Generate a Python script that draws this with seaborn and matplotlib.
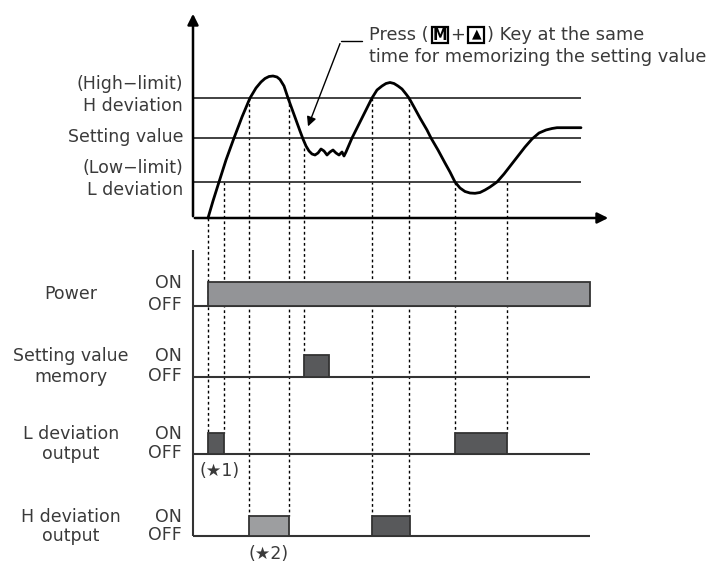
import matplotlib.pyplot as plt
import seaborn as sns
import pandas as pd
from matplotlib.patches import Rectangle

# Timing diagram drawn on one axes whose units follow the picture (time to the right, value downwards)
sns.set_style("white")
plt.rcParams['font.family'] = ['DejaVu Sans']

TEXT = '#3a3a3a'
LINE = '#333333'
FS = 12.5
FS_NOTE = 12.8

# process value curve (time, value)
curve_t = [208, 213, 219, 226, 234, 242, 250, 256, 261, 265, 269, 273, 277, 280, 284, 288,
           292, 296, 300, 303, 306, 309, 312, 315, 318, 321, 324, 327, 330, 333, 336,
           339, 342, 344, 346, 349, 352, 356, 361, 366, 372, 377, 382, 386, 390, 394,
           398, 402, 406, 409, 414, 420, 427, 431, 438, 445, 450, 455, 460, 465, 470,
           475, 480, 485, 490, 497, 504, 511, 518, 525, 532, 539, 546, 552, 557, 581]
curve_v = [218, 201, 182, 160, 138, 117, 98, 88, 82, 78.5, 76.5, 76, 77, 79.5, 86, 98,
           109, 120, 131, 139, 146, 151, 154, 155, 153, 149, 151, 155, 152, 150, 153,
           155, 152, 156, 152, 145, 138, 130, 120, 110, 98, 90, 86, 83.5, 82.5, 83.5,
           86, 89, 94, 98, 107, 118, 130, 138, 150, 163, 172, 182, 188, 191.5, 193,
           193.3, 192.5, 190, 187, 182, 174, 165, 156, 147, 139, 133, 130, 128.5, 127.7, 127.7]

# reference levels
level_names = ['(High\u2212limit)\nH deviation', 'Setting value', '(Low\u2212limit)\nL deviation']
level_values = [98, 138, 182]

# switching instants: (time, value where the dotted guide starts, row where it ends)
guide_t = [208, 224, 249, 289, 304, 372, 409, 455, 507]
guide_from = [218, 182, 98, 98, 148, 98, 98, 182, 182]
guide_to = [433, 433, 516, 516, 355, 516, 516, 433, 433]

# output rows
row_names = ['Power', 'Setting value\nmemory', 'L deviation\noutput', 'H deviation\noutput']
row_off = [306, 377, 454, 536]
row_on = [282, 355, 433, 516]
row_on_spans = [[(208, 590)], [(304, 329)], [(208, 224), (455, 507)], [(249, 289), (372, 410)]]
row_colors = [['#939497'], ['#58595b'], ['#58595b', '#58595b'], ['#9d9ea0', '#58595b']]

fig = plt.figure(figsize=(7.09, 5.66), dpi=100)
ax = fig.add_axes([0, 0, 1, 1])

# upper graph axes
ax.annotate('', xy=(193, 11), xytext=(193, 219),
            arrowprops=dict(arrowstyle='-|>', color='black', lw=1.8, mutation_scale=16))
ax.annotate('', xy=(611, 218), xytext=(192, 218),
            arrowprops=dict(arrowstyle='-|>', color='black', lw=1.8, mutation_scale=16))

for name, v in zip(level_names, level_values):
    ax.hlines(v, 193, 581, color=LINE, lw=1.3)
    lines = name.split('\n')
    if len(lines) == 2:
        ax.text(183, v - 14, lines[0], ha='right', va='center', fontsize=FS, color=TEXT)
        ax.text(183, v + 8, lines[1], ha='right', va='center', fontsize=FS, color=TEXT)
    else:
        ax.text(183, v - 1, lines[0], ha='right', va='center', fontsize=FS, color=TEXT)

df = pd.DataFrame({'t': curve_t, 'v': curve_v})
sns.lineplot(data=df, x='t', y='v', sort=False, color='black', lw=2, ax=ax)
ax.set_xlim(0, 709)
ax.set_ylim(566, 0)
ax.axis('off')

# dotted guides
for t, a, b in zip(guide_t, guide_from, guide_to):
    ax.vlines(t, a, b, color='black', lw=1, linestyles=(0, (2, 2)), zorder=1)

# lower timing rows
ax.vlines(193, 250, row_off[-1], color=LINE, lw=1.5)
for name, off, on, spans, cols in zip(row_names, row_off, row_on, row_on_spans, row_colors):
    ax.hlines(off, 193, 590, color=LINE, lw=1.5, zorder=2)
    for (a, b), c in zip(spans, cols):
        ax.add_patch(Rectangle((a, on), b - a, off - on, facecolor=c,
                               edgecolor=LINE, lw=1.3, zorder=3))
    ax.text(182, on + 1, 'ON', ha='right', va='center', fontsize=FS, color=TEXT)
    ax.text(182, off - 1, 'OFF', ha='right', va='center', fontsize=FS, color=TEXT)
    lines = name.split('\n')
    if len(lines) == 2:
        ax.text(71, on + 1, lines[0], ha='center', va='center', fontsize=FS, color=TEXT)
        ax.text(71, off, lines[1], ha='center', va='center', fontsize=FS, color=TEXT)
    else:
        ax.text(71, (on + off) / 2, lines[0], ha='center', va='center', fontsize=FS, color=TEXT)

ax.text(220, 471, '(\u26051)', ha='center', va='center', fontsize=FS, color=TEXT)
ax.text(269, 554, '(\u26052)', ha='center', va='center', fontsize=FS, color=TEXT)

# annotation with key symbols, laid out piece by piece
renderer = fig.canvas.get_renderer()


def right_edge(txt):
    bb = txt.get_window_extent(renderer=renderer)
    return ax.transData.inverted().transform((bb.x1, bb.y0))[0]


x = 369
t = ax.text(x, 35, 'Press (', ha='left', va='center', fontsize=FS_NOTE, color=TEXT)
x = right_edge(t) + 3
for glyph, fs, weight, gy in [('M', 10.5, 'bold', 35.5), ('\u25b2', 9, 'normal', 33.5)]:
    ax.add_patch(Rectangle((x, 27), 16, 16, facecolor='white', edgecolor='black', lw=1.6))
    ax.text(x + 8, gy, glyph, ha='center', va='center', fontsize=fs, fontweight=weight,
            color='black')
    x += 16
    if glyph == 'M':
        p = ax.text(x + 3, 35, '+', ha='left', va='center', fontsize=FS_NOTE, color=TEXT)
        x = right_edge(p) + 3
ax.text(x + 3, 35, ') Key at the same', ha='left', va='center', fontsize=FS_NOTE, color=TEXT)
ax.text(369, 57, 'time for memorizing the setting value', ha='left', va='center',
        fontsize=FS_NOTE, color=TEXT)

ax.plot([362, 341], [41, 41], color='black', lw=1)
ax.annotate('', xy=(307, 129), xytext=(341, 41),
            arrowprops=dict(arrowstyle='-|>', color='black', lw=1, mutation_scale=14))

fig.savefig('out.png', dpi=100)
